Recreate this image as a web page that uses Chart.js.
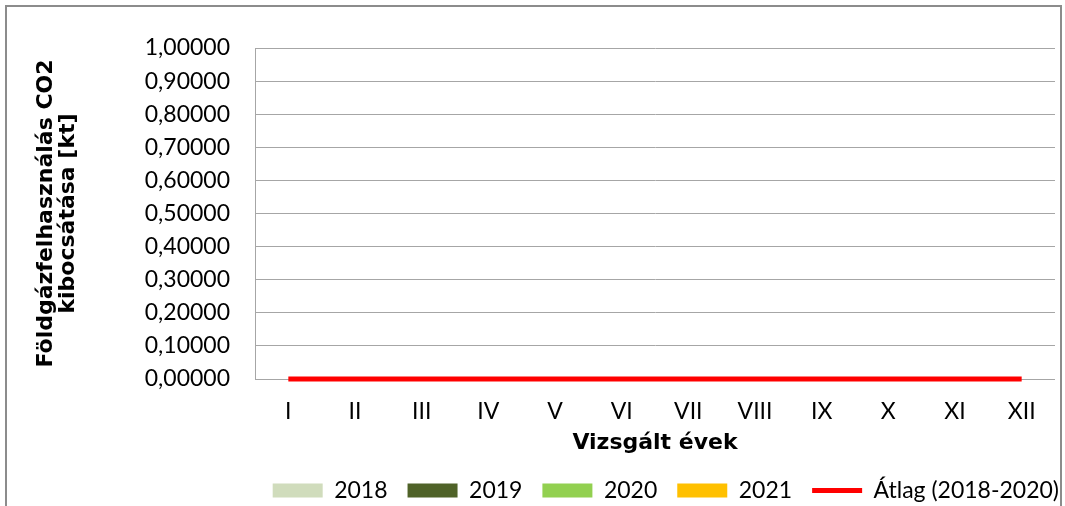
<!DOCTYPE html>
<html>
<head>
<meta charset="utf-8">
<script src="https://cdn.jsdelivr.net/npm/chart.js@4/dist/chart.umd.min.js"></script>
<style>
  html, body { margin: 0; padding: 0; background: #fff; }
  #wrap { position: relative; width: 1065px; height: 506px; overflow: hidden; }
  #frame { position: absolute; left: 5px; top: 5px; width: 1057px; height: 520px; border: 2px solid #8c8c8c; box-sizing: border-box; }
  canvas { position: absolute; left: 0; top: 0; }
</style>
</head>
<body>
<div id="wrap">
  <div id="frame"></div>
  <canvas id="chart" width="1065" height="506"></canvas>
</div>
<script>
const months = ['I', 'II', 'III', 'IV', 'V', 'VI', 'VII', 'VIII', 'IX', 'X', 'XI', 'XII'];
const years = ['2018', '2019', '2020', '2021'];
const v2018 = [0, 0, 0, 0, 0, 0, 0, 0, 0, 0, 0, 0];
const v2019 = [0, 0, 0, 0, 0, 0, 0, 0, 0, 0, 0, 0];
const v2020 = [0, 0, 0, 0, 0, 0, 0, 0, 0, 0, 0, 0];
const v2021 = [0, 0, 0, 0, 0, 0, 0, 0, 0, 0, 0, 0];
const avg = [0, 0, 0, 0, 0, 0, 0, 0, 0, 0, 0, 0];
const avgLabel = 'Átlag (2018-2020)';
const yTitle = ['Földgázfelhasználás CO2', 'kibocsátása [kt]'];
const xTitle = 'Vizsgált évek';

const colors = ['#d0dcbc', '#4f6228', '#92d050', '#ffc000'];
const lineColor = '#ff0000';
const gridColor = '#a6a6a6';
const tickFont = { family: 'Lato', size: 23 };
const titleFont = { family: 'DejaVu Sans', size: 22, weight: 'bold', lineHeight: 1.0 };

const barSets = [v2018, v2019, v2020, v2021].map((d, i) => ({
  type: 'bar',
  label: years[i],
  data: d,
  backgroundColor: colors[i],
  borderWidth: 0,
  order: 1
}));

// nudge the legend to where the original sits (further right and lower)
const legendShift = {
  id: 'legendShift',
  afterUpdate(chart) {
    const lg = chart.legend;
    lg.left += 24; lg.right += 24;
    lg.top += 6; lg.bottom += 6;
  }
};

new Chart(document.getElementById('chart'), {
  type: 'bar',
  data: {
    labels: months,
    datasets: [
      ...barSets,
      {
        type: 'line',
        label: avgLabel,
        data: avg,
        borderColor: lineColor,
        backgroundColor: lineColor,
        borderWidth: 5,
        pointRadius: 0,
        fill: false,
        clip: false,
        order: 0
      }
    ]
  },
  options: {
    responsive: false,
    animation: false,
    layout: { padding: { left: 0, right: 10, top: 48, bottom: 0 } },
    scales: {
      x: {
        grid: { display: false, drawTicks: false },
        border: { display: false },
        ticks: { color: '#000', font: tickFont, padding: 19 },
        title: { display: true, text: xTitle, color: '#000', font: titleFont, padding: { top: 4, bottom: -1 } },
        afterFit: (s) => { s.height = 74; }
      },
      y: {
        min: 0,
        max: 1,
        grid: { color: gridColor, lineWidth: 1, drawTicks: false },
        border: { display: true, color: gridColor, width: 1 },
        ticks: {
          stepSize: 0.1,
          color: '#000',
          font: tickFont,
          padding: 25,
          callback: (v) => v.toFixed(5).replace('.', ',')
        },
        title: { display: true, text: yTitle, color: '#000', font: titleFont, padding: { top: 35, bottom: 0 } },
        afterFit: (s) => { s.width = 255; }
      }
    },
    plugins: {
      tooltip: { enabled: false },
      legend: {
        position: 'bottom',
        align: 'end',
        labels: {
          color: '#000',
          font: tickFont,
          usePointStyle: true,
          pointStyleWidth: 50,
          boxHeight: 14,
          padding: 20,
          generateLabels: () => {
            const items = years.map((y, i) => ({
              text: y,
              fillStyle: colors[i],
              strokeStyle: colors[i],
              lineWidth: 0,
              pointStyle: 'rect',
              datasetIndex: i
            }));
            items.push({
              text: avgLabel,
              fillStyle: lineColor,
              strokeStyle: lineColor,
              lineWidth: 5,
              pointStyle: 'line',
              datasetIndex: 4
            });
            return items;
          }
        }
      }
    }
  },
  plugins: [legendShift]
});
</script>
</body>
</html>
